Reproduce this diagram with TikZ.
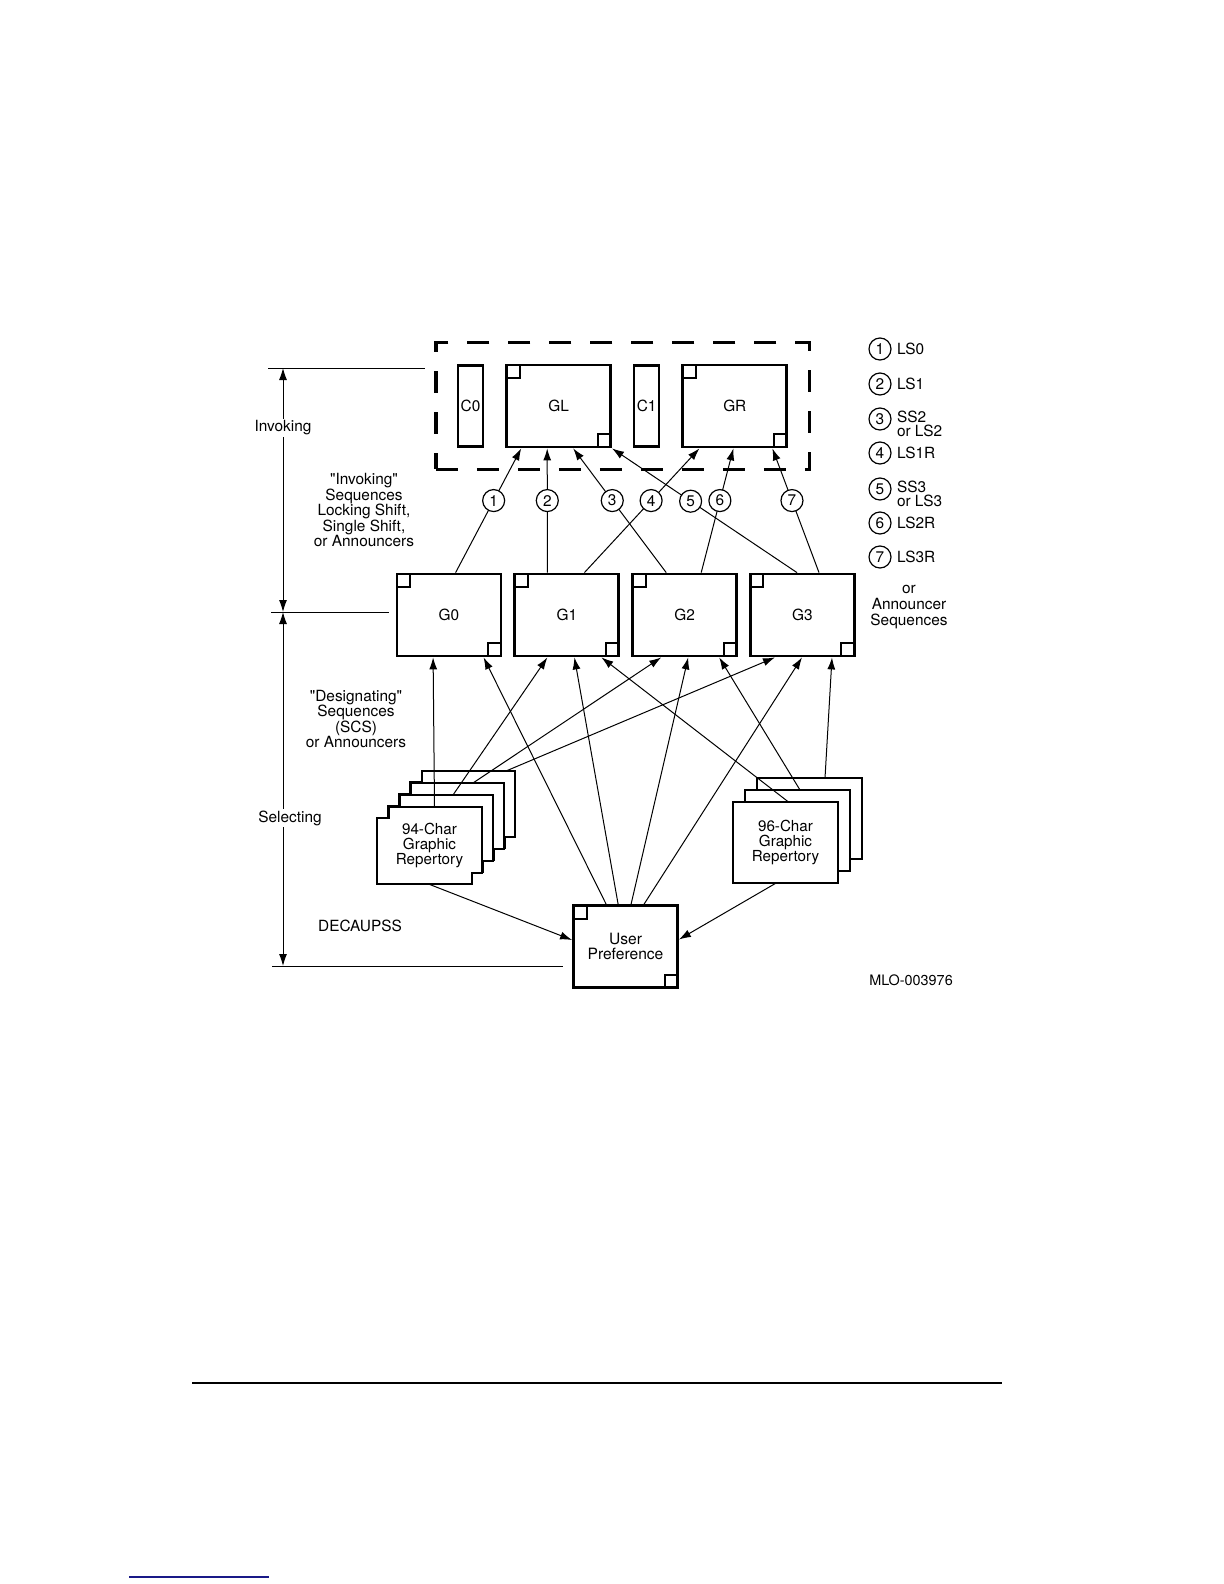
\documentclass[tikz,border=0pt]{standalone}
\usepackage{fontspec}
\setmainfont{TeX Gyre Heros}[Ligatures=TeXOff]
\usepackage{xcolor}
\usetikzlibrary{arrows.meta,positioning,fit,calc}
\definecolor{linkblue}{RGB}{25,25,135}

% stacked repertory card with two notched corners (top left corner at #1,#2)
\newcommand{\repcard}[2]{%
  \draw[card] (#1+12,#2) -- (#1+105,#2) -- (#1+105,#2+66) -- (#1+95,#2+66)
    -- (#1+95,#2+77) -- (#1,#2+77) -- (#1,#2+11) -- (#1+12,#2+11) -- cycle;}

\begin{document}
\begin{tikzpicture}[
    x=0.5pt, y=-0.5pt,
    >={Latex[length=6pt,width=4pt]},
    txt/.style={font=\fontsize{7.7}{7}\selectfont, align=center, inner sep=1pt},
    gbox/.style={txt, rectangle, draw, line width=1.4pt, minimum width=52pt, minimum height=41pt, inner sep=0pt, fill=white,
        path picture={
            \draw[line width=1pt] (path picture bounding box.north west) rectangle ++(6.5pt,-6.5pt);
            \draw[line width=1pt] (path picture bounding box.south east) rectangle ++(-6.5pt,6.5pt);}},
    cbox/.style={txt, rectangle, draw, line width=1.2pt, minimum width=12.5pt, minimum height=40.5pt, inner sep=0pt},
    num/.style={txt, circle, draw, line width=0.6pt, fill=white, minimum size=11pt, inner sep=0pt},
    card/.style={draw, line width=1.3pt, fill=white},
    cardtext/.style={rectangle, minimum width=52.5pt, minimum height=38.5pt, inner sep=0pt, align=center, font=\fontsize{7.6}{7.6}\selectfont},
    arrow/.style={->, line width=0.5pt},
    link/.style={line width=0.5pt},
    dashbox/.style={draw, line width=1.7pt, dash pattern=on 11pt off 9.5pt, inner sep=10.5pt},
]
\useasboundingbox (0,0) rectangle (1224,1584);

% Invoked sets (in use table)
\node[cbox] (c_zero) at (470.5,406) {C0};
\node[gbox, right=10.5pt of c_zero] (g_left) {GL};
\node[cbox, right=10.5pt of g_left] (c_one) {C1};
\node[gbox, right=10.5pt of c_one] (g_right) {GR};
\node[dashbox, fit=(c_zero)(g_left)(c_one)(g_right)] (in_use) {};

% Designated sets
\node[gbox] (g_zero) at (449,615) {G0};
\node[gbox, right=5.5pt of g_zero] (g_one) {G1};
\node[gbox, right=5.5pt of g_one] (g_two) {G2};
\node[gbox, right=5.5pt of g_two] (g_three) {G3};

% Invoking shifts
\draw[arrow] ($(g_zero.north west)+(60,0)$) -- node[num, pos=0.58] (n_one) {1} ($(g_left.south west)+(16,0)$);
\draw[arrow] ($(g_one.north west)+(34,0)$) -- node[num, pos=0.58] (n_two) {2} ($(g_left.south west)+(42,0)$);
\draw[arrow] ($(g_two.north west)+(35,0)$) -- node[num, pos=0.58] (n_three) {3} ($(g_left.south west)+(68,0)$);
\draw[arrow] ($(g_one.north west)+(71,0)$) -- node[num, pos=0.58] (n_four) {4} ($(g_right.south west)+(18,0)$);
\draw[arrow] ($(g_three.north west)+(48,0)$) -- node[num, pos=0.575] (n_five) {5} (g_left.south east);
\draw[arrow] ($(g_two.north west)+(70,0)$) -- node[num, pos=0.58] (n_six) {6} ($(g_right.south west)+(52,0)$);
\draw[arrow] ($(g_three.north west)+(70,0)$) -- node[num, pos=0.58] (n_seven) {7} ($(g_right.south west)+(91,0)$);

% 94-character repertory stack
\repcard{410}{771}
\repcard{399}{783}
\repcard{388}{795}
\repcard{377}{807}
\node[cardtext] (rep_94) at (429.5,845.5) {94-Char\\Graphic\\Repertory};
\coordinate (rep_94_b) at (453,795);
\coordinate (rep_94_c) at (473,783);
\coordinate (rep_94_d) at (506,771);

% 96-character repertory stack
\draw[card] (757,778) rectangle ++(105,81);
\draw[card] (745,790) rectangle ++(105,81);
\draw[card] (733,802) rectangle ++(105,81);
\node[cardtext, minimum height=40.5pt] (rep_96) at (785.5,842.5) {96-Char\\Graphic\\Repertory};
\coordinate (rep_96_b) at (800,790);
\coordinate (rep_96_c) at (825,778);

% User preference
\node[gbox, font=\fontsize{7.8}{7.8}\selectfont] (user_pref) at (625.5,946.5) {User\\Preference};

% Designating sequences
\draw[arrow] ($(rep_94.north)+(5,0)$) -- ($(g_zero.south west)+(37.5,0)$);
\draw[arrow] ($(user_pref.north west)+(34,0)$) -- ($(g_zero.south west)+(88,0)$);
\draw[arrow] (rep_94_b) -- ($(g_one.south west)+(34,0)$);
\draw[arrow] ($(user_pref.north west)+(46,0)$) -- ($(g_one.south west)+(61,0)$);
\draw[arrow] ($(rep_96.north)+(2.5,0)$) -- ($(g_one.south west)+(88,0)$);
\draw[arrow] (rep_94_c) -- ($(g_two.south west)+(30,0)$);
\draw[arrow] ($(user_pref.north west)+(59,0)$) -- ($(g_two.south west)+(57,0)$);
\draw[arrow] (rep_96_b) -- ($(g_two.south west)+(88,0)$);
\draw[arrow] (rep_94_d) -- ($(g_three.south west)+(26,0)$);
\draw[arrow] ($(user_pref.north west)+(72,0)$) -- ($(g_three.south west)+(53,0)$);
\draw[arrow] (rep_96_c) -- ($(g_three.south west)+(83,0)$);

\draw[arrow] (rep_94.south) -- ($(user_pref.west)+(0,-6.5)$);
\draw[arrow] ($(rep_96.south)+(-10,0)$) -- ($(user_pref.east)+(0,-7)$);

% Dimension line on the left
\coordinate (dim_top) at (283,368);
\coordinate (dim_mid) at (283,612);
\coordinate (dim_bot) at (283,966);
\draw[link, <->] (dim_top) -- (dim_mid);
\draw[link, <->] (dim_mid) -- (dim_bot);
\draw[link] ($(dim_top)+(-15,0)$) -- ($(dim_top)+(142,0)$);
\draw[link] ($(dim_mid)+(-12,0)$) -- ($(dim_mid)+(106,0)$);
\draw[link] ($(dim_bot)+(-11,0)$) -- ($(dim_bot)+(280,0)$);

\node[txt, fill=white] (lbl_invoking) at (283,428) {Invoking};
\node[txt, fill=white] (lbl_selecting) at (290,818) {Selecting};
\node[txt] (lbl_decaupss) at (360,926) {DECAUPSS};
\node[txt] (lbl_inv_seq) at (364,510) {"Invoking"\\[-0.7pt]Sequences\\[-0.7pt]Locking Shift,\\[-0.7pt]Single Shift,\\[-0.7pt]or Announcers};
\node[txt] (lbl_des_seq) at (356,719) {"Designating"\\[-0.7pt]Sequences\\[-0.7pt](SCS)\\[-0.7pt]or Announcers};
\node[txt, font=\fontsize{7.2}{7}\selectfont] (lbl_figure) at (911,980) {MLO-003976};

% Legend
\node[num] (leg_1) at (880,349) {1};
\node[txt, anchor=west] (leg_1_t) at ($(leg_1.east)+(3,0)$) {LS0};
\node[num] (leg_2) at (880,384) {2};
\node[txt, anchor=west] (leg_2_t) at ($(leg_2.east)+(3,0)$) {LS1};
\node[num] (leg_3) at (880,419) {3};
\node[txt, anchor=west, align=left] (leg_3_t) at ($(leg_3.east)+(3,5)$) {SS2\\or LS2};
\node[num] (leg_4) at (880,453) {4};
\node[txt, anchor=west] (leg_4_t) at ($(leg_4.east)+(3,0)$) {LS1R};
\node[num] (leg_5) at (880,489) {5};
\node[txt, anchor=west, align=left] (leg_5_t) at ($(leg_5.east)+(3,5)$) {SS3\\or LS3};
\node[num] (leg_6) at (880,523) {6};
\node[txt, anchor=west] (leg_6_t) at ($(leg_6.east)+(3,0)$) {LS2R};
\node[num] (leg_7) at (880,557) {7};
\node[txt, anchor=west] (leg_7_t) at ($(leg_7.east)+(3,0)$) {LS3R};
\node[txt, font=\fontsize{7.7}{8}\selectfont] (leg_more) at (909,607) {or\\Announcer\\Sequences};

% Page rules
\draw[line width=1pt] (192,1383) -- (1002,1383);
\draw[line width=1pt, linkblue] (129,1577) -- (269,1577);

\end{tikzpicture}
\end{document}
